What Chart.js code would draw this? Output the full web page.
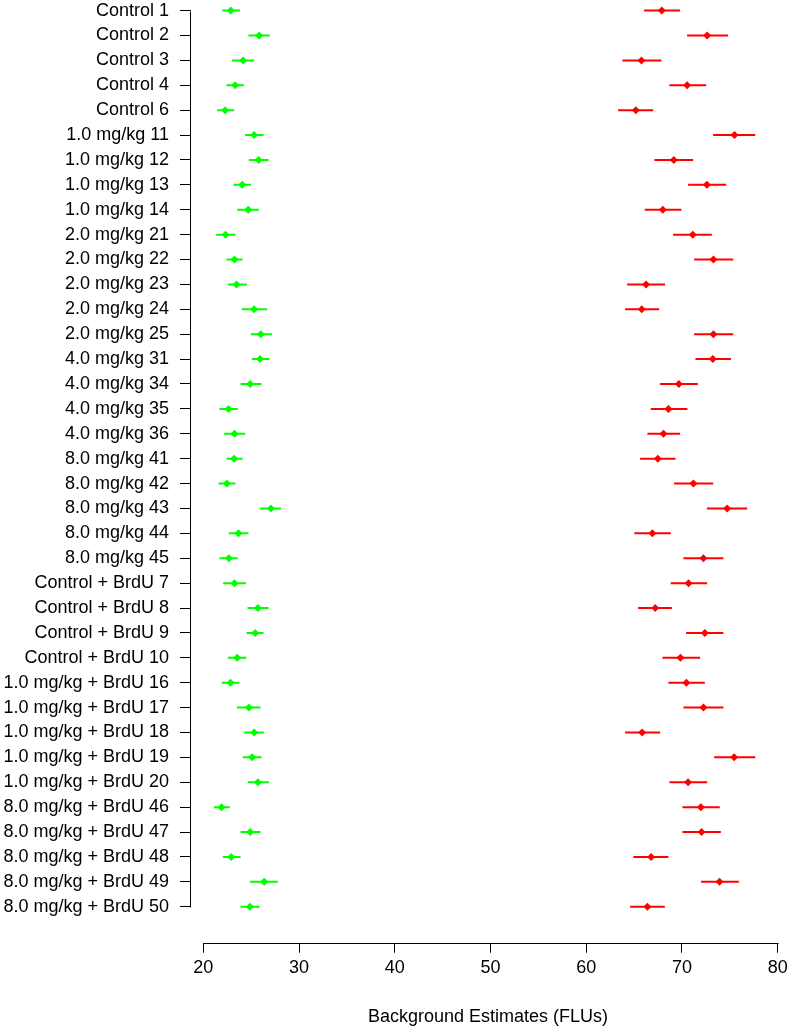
<!DOCTYPE html>
<html>
<head>
<meta charset="utf-8">
<script src="https://cdn.jsdelivr.net/npm/chart.js@4.4.0/dist/chart.umd.min.js"></script>
<style>
  html, body { margin: 0; padding: 0; background: #ffffff; }
  #wrap { width: 790px; height: 1030px; }
</style>
</head>
<body>
<div id="wrap"><canvas id="c" width="790" height="1030"></canvas></div>
<script>
const categories = ["Control 1","Control 2","Control 3","Control 4","Control 6",
  "1.0 mg/kg 11","1.0 mg/kg 12","1.0 mg/kg 13","1.0 mg/kg 14",
  "2.0 mg/kg 21","2.0 mg/kg 22","2.0 mg/kg 23","2.0 mg/kg 24","2.0 mg/kg 25",
  "4.0 mg/kg 31","4.0 mg/kg 34","4.0 mg/kg 35","4.0 mg/kg 36",
  "8.0 mg/kg 41","8.0 mg/kg 42","8.0 mg/kg 43","8.0 mg/kg 44","8.0 mg/kg 45",
  "Control + BrdU 7","Control + BrdU 8","Control + BrdU 9","Control + BrdU 10",
  "1.0 mg/kg + BrdU 16","1.0 mg/kg + BrdU 17","1.0 mg/kg + BrdU 18","1.0 mg/kg + BrdU 19","1.0 mg/kg + BrdU 20",
  "8.0 mg/kg + BrdU 46","8.0 mg/kg + BrdU 47","8.0 mg/kg + BrdU 48","8.0 mg/kg + BrdU 49","8.0 mg/kg + BrdU 50"];

const greenMean = [22.87,25.84,24.16,23.33,22.28,25.31,25.77,24.06,24.69,22.32,23.26,23.47,25.31,26.01,25.91,24.90,22.63,23.26,23.22,22.46,27.06,23.68,22.67,23.26,25.70,25.42,23.54,22.84,24.76,25.31,25.10,25.70,21.90,24.90,22.91,26.36,24.86];
const greenLow  = [21.97,24.72,23.01,22.42,21.44,24.37,24.76,23.15,23.54,21.34,22.42,22.56,24.02,24.97,25.07,23.89,21.69,22.18,22.42,21.59,25.94,22.67,21.69,22.07,24.62,24.51,22.56,21.93,23.50,24.27,24.13,24.65,21.10,23.89,22.04,24.86,23.89];
const greenHigh = [23.85,26.95,25.31,24.23,23.22,26.29,26.82,24.99,25.80,23.36,24.10,24.55,26.67,27.16,26.92,26.08,23.60,24.37,24.10,23.36,28.13,24.72,23.60,24.47,26.82,26.29,24.51,23.78,25.98,26.33,26.08,26.85,22.77,25.98,23.89,27.79,25.87];

const redMean = [67.89,72.63,65.77,70.54,65.18,75.49,69.15,72.60,68.00,71.13,73.29,66.25,65.80,73.29,73.22,69.67,68.59,68.07,67.48,71.20,74.72,66.91,72.24,70.68,67.20,72.39,69.84,70.47,72.24,65.84,75.45,70.64,71.97,72.04,66.78,73.92,66.39];
const redLow  = [66.04,70.54,63.78,68.69,63.33,73.26,67.12,70.64,66.12,69.08,71.27,64.27,64.06,71.27,71.41,67.72,66.74,66.39,65.63,69.18,72.60,65.03,70.15,68.83,65.42,70.43,67.96,68.59,70.15,64.06,73.36,68.69,70.05,70.05,64.93,72.00,64.58];
const redHigh = [69.80,74.82,67.86,72.53,66.99,77.65,71.17,74.62,69.94,73.12,75.35,68.24,67.61,75.35,75.11,71.66,70.57,69.81,69.32,73.26,76.81,68.83,74.33,72.63,68.94,74.33,71.90,72.39,74.33,67.72,77.65,72.63,73.95,74.06,68.59,75.94,68.21];

const xTicks = [20, 30, 40, 50, 60, 70, 80];
const xTitle = "Background Estimates (FLUs)";

const GREEN = "#00ff00";
const RED = "#ff0000";

function segments(low, high) {
  const out = [];
  low.forEach((lo, i) => {
    out.push({x: lo, y: i});
    out.push({x: high[i], y: i});
    out.push({x: null, y: null});
  });
  return out;
}
function points(mean) {
  return mean.map((v, i) => ({x: v, y: i}));
}

Chart.defaults.font.family = "'Liberation Sans', Arial, sans-serif";
Chart.defaults.font.size = 18;
Chart.defaults.color = "#000000";

const rAxes = {
  id: 'rAxes',
  afterDraw(chart) {
    const {ctx, chartArea, scales: {x, y}} = chart;
    ctx.save();
    ctx.strokeStyle = "#000000";
    ctx.lineWidth = 1;
    ctx.beginPath();
    const yb = Math.round(chartArea.bottom) + 0.5;
    ctx.moveTo(Math.round(x.getPixelForValue(xTicks[0])) + 0.5, yb);
    ctx.lineTo(Math.round(x.getPixelForValue(xTicks[xTicks.length - 1])) + 0.5, yb);
    const xl = Math.round(chartArea.left) - 0.5;
    ctx.moveTo(xl, Math.round(y.getPixelForValue(0)) + 0.5);
    ctx.lineTo(xl, Math.round(y.getPixelForValue(categories.length - 1)) + 0.5);
    ctx.stroke();
    ctx.restore();
  }
};

new Chart(document.getElementById('c'), {
  type: 'scatter',
  data: {
    datasets: [
      { type: 'line', data: segments(greenLow, greenHigh), borderColor: GREEN, borderWidth: 2, pointRadius: 0, spanGaps: false, borderCapStyle: 'butt', fill: false },
      { type: 'line', data: segments(redLow, redHigh), borderColor: RED, borderWidth: 2, pointRadius: 0, spanGaps: false, borderCapStyle: 'butt', fill: false },
      { data: points(greenMean), pointStyle: 'rectRot', pointRadius: 4, backgroundColor: GREEN, borderColor: GREEN, borderWidth: 0 },
      { data: points(redMean), pointStyle: 'rectRot', pointRadius: 4, backgroundColor: RED, borderColor: RED, borderWidth: 0 }
    ]
  },
  options: {
    responsive: false,
    animation: false,
    events: [],
    layout: { padding: { left: 0, right: 5, top: 0, bottom: 0 } },
    plugins: { legend: { display: false }, tooltip: { enabled: false } },
    scales: {
      x: {
        type: 'linear',
        position: 'bottom',
        min: 18.715,
        max: 80.763,
        afterBuildTicks: (s) => { s.ticks = xTicks.map(v => ({value: v})); },
        afterFit: (s) => { s.height = 87.3; s.paddingLeft = 0; s.paddingRight = 0; },
        border: { display: false },
        grid: { drawOnChartArea: false, drawTicks: true, tickLength: 10, color: "#000000", lineWidth: 1 },
        ticks: { autoSkip: false, maxRotation: 0, padding: 5, color: "#000000", font: { size: 18 }, callback: (v) => String(v) },
        title: { display: true, text: xTitle, color: "#000000", font: { size: 18 }, padding: { top: 0, bottom: 2 } }
      },
      y: {
        type: 'linear',
        position: 'left',
        reverse: true,
        min: -0.265,
        max: 37.445,
        afterBuildTicks: (s) => { s.ticks = categories.map((_, i) => ({value: i})); },
        afterFit: (s) => { s.width = 191; s.paddingTop = 0; s.paddingBottom = 0; },
        border: { display: false },
        grid: { drawOnChartArea: false, drawTicks: true, tickLength: 11, color: "#000000", lineWidth: 1 },
        ticks: { autoSkip: false, padding: 11, color: "#000000", font: { size: 18 }, callback: (v) => categories[v] }
      }
    }
  },
  plugins: [rAxes]
});
</script>
</body>
</html>
